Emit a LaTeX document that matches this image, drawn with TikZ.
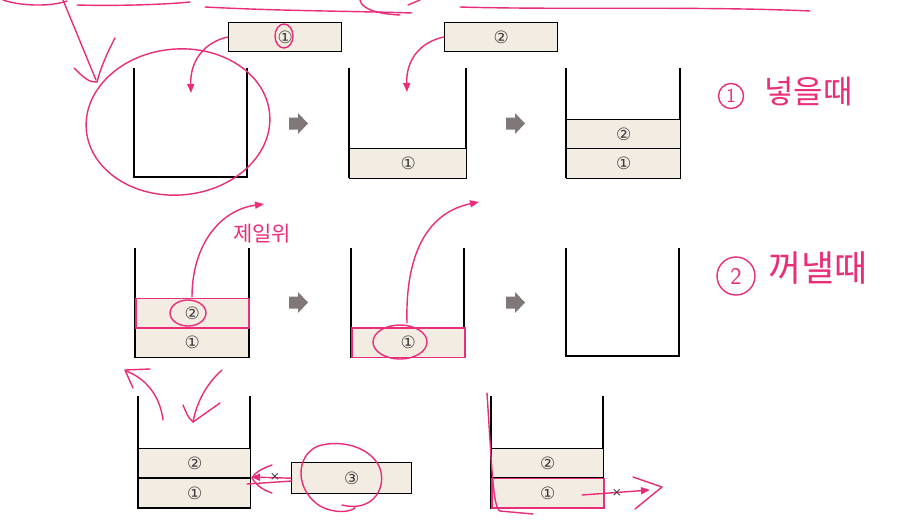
\documentclass[tikz,border=0pt]{standalone}
\usepackage{fontspec}
\newfontfamily\numfont{DejaVu Sans}
\newfontfamily\krfont{Noto Sans CJK KR}
\usetikzlibrary{arrows.meta}
\definecolor{boxfill}{RGB}{243,236,226}
\definecolor{ink}{RGB}{233,45,120}
\definecolor{arrowgray}{RGB}{128,120,120}
\definecolor{numgray}{RGB}{60,60,60}
\begin{document}
\begin{tikzpicture}[x=1pt,y=-1pt,
  wall/.style={line width=1.8pt},
  item/.style={draw=black, fill=boxfill, line width=1.4pt, minimum height=29.5pt,
    minimum width=113pt, inner sep=0pt, anchor=north west,
    font=\numfont\fontsize{17}{17}\selectfont, text=numgray},
  pinkitem/.style={item, draw=ink, line width=1.6pt},
  inkline/.style={draw=ink, line width=1.4pt, line cap=round, line join=round},
  inkarrow/.style={inkline, -{Triangle[length=9pt,width=7pt]}},
  grayarrow/.style={fill=arrowgray},
  hand/.style={text=ink, inner sep=0pt},
  cross/.style={font=\numfont\fontsize{12}{12}\selectfont, text=numgray, inner sep=0pt}
]
\useasboundingbox (0,0) rectangle (913,520);
\fill[white] (0,0) rectangle (913,520);

% ---------- Row 1 ----------
\node[item] (in1) at (228,21.5) {①};
\node[item] (in2) at (444,21.5) {②};

\draw[wall] (134,68) |- (247,177) -- (247,68);
\coordinate (aIn) at (191,93);

\draw[wall] (349,68) |- (466,177) -- (466,68);
\node[item, minimum width=117pt] (b1) at (349,148) {①};
\coordinate (bIn) at (407,92);

\draw[wall] (566,68) |- (680,177) -- (680,68);
\node[item, minimum width=114pt] (c2) at (566,118.5) {②};
\node[item, minimum width=114pt] (c1) at (566,148) {①};

\fill[grayarrow] (289,117.5) -- (298,117.5) -- (298,113) -- (308,123.5) -- (298,134) -- (298,129.5) -- (289,129.5) -- cycle;
\fill[grayarrow] (506,117.5) -- (515,117.5) -- (515,113) -- (525,123.5) -- (515,134) -- (515,129.5) -- (506,129.5) -- cycle;

% ---------- Row 2 ----------
\draw[wall] (135,248) |- (249,357) -- (249,248);
\node[item] (d1) at (135,327) {①};
\node[pinkitem] (d2) at (135,297.5) {②};

\draw[wall] (351,248) |- (464,357) -- (464,248);
\node[pinkitem] (e1) at (351,327) {①};

\draw[wall] (566,248) |- (679,356) -- (679,248);

\fill[grayarrow] (289,296.5) -- (298,296.5) -- (298,292) -- (308,302.5) -- (298,313) -- (298,308.5) -- (289,308.5) -- cycle;
\fill[grayarrow] (506,296.5) -- (515,296.5) -- (515,292) -- (525,302.5) -- (515,313) -- (515,308.5) -- (506,308.5) -- cycle;

% ---------- Row 3 ----------
\draw[wall] (138,396) |- (250,508) -- (250,396);
\node[item, minimum width=112pt] (g2) at (138,447.5) {②};
\node[item, minimum width=112pt] (g1) at (138,477.5) {①};
\node[item, minimum width=120pt, minimum height=31pt] (g3) at (291,462) {③};
\coordinate (gWall) at (251,477);

\draw[wall] (491,396) |- (603,508) -- (603,396);
\node[item, minimum width=112pt] (h2) at (491,447.5) {②};
\node[pinkitem, minimum width=112pt] (h1) at (491,477.5) {①};

% ---------- pink annotations ----------
% top underlines
\draw[inkline] (3,0) .. controls (20,6) and (50,7) .. (67,1);
\draw[inkline] (77,5) .. controls (110,6) and (160,5) .. (190,2);
\draw[inkline] (205,7) .. controls (280,11) and (350,11) .. (412,13);
\draw[inkline] (360,0) .. controls (362,10) and (380,14) .. (400,15);
\draw[inkline] (408,5) -- (420,0);
\draw[inkline] (460,7) .. controls (560,10) and (700,6) .. (810,11);
% top-left arrow
\draw[inkline] (63,0) -- (96,80);
\draw[inkline] (74,68) .. controls (84,78) and (90,83) .. (97,82);
\draw[inkline] (115,38) .. controls (106,55) and (100,70) .. (97,82);
% ellipse around first container
\draw[inkline] (178,122) ellipse [x radius=92, y radius=73, rotate=5];
% circle on (1)
\draw[inkline] (284,36) ellipse [x radius=9, y radius=12];
% insert arrows
\draw[inkarrow] (in1.west) .. controls (205,42) and (190,60) .. (aIn);
\draw[inkarrow] (in2.west) .. controls (420,42) and (406,60) .. (bIn);

% row 2 pop arrows
\coordinate (dOut) at (264,204);
\coordinate (eOut) at (479,202);
\draw[inkarrow] (192,297) .. controls (192,245) and (220,210) .. (dOut);
\draw[inkarrow] (407,323) .. controls (405,250) and (430,212) .. (eOut);
\draw[inkline] (188,313) ellipse [x radius=18, y radius=13];
\draw[inkline] (400,342) ellipse [x radius=27, y radius=17];

% row 3 left
\draw[inkline] (163,420) .. controls (160,395) and (145,378) .. (126,371);
\draw[inkline] (150,369) -- (125,370) -- (133,388);
\draw[inkline] (222,370) .. controls (205,385) and (196,405) .. (193,422);
\draw[inkline] (183,405) .. controls (186,412) and (188,418) .. (193,422) -- (220,403);
\draw[inkarrow] (g3.west) -- (gWall);
\draw[inkline] (247,484) -- (292,481);
\draw[inkline] (272,465) .. controls (260,469) and (254,474) .. (252,478) .. controls (256,485) and (263,490) .. (272,493);
\node[cross] (x1) at (275,477) {×};
\draw[inkline] (342,505) .. controls (370,512) and (385,492) .. (381,472) .. controls (376,450) and (345,438) .. (318,446) .. controls (295,456) and (295,490) .. (320,506) .. controls (335,514) and (350,512) .. (355,508);

% row 3 right
\draw[inkline] (487,393) .. controls (492,470) and (493,508) .. (500,511) -- (533,514);
\coordinate (hOut) at (650,490);
\draw[inkarrow] (582,495) -- (hOut);
\draw[inkline] (633,477) -- (662,487) -- (635,509);
\node[cross] (x2) at (617,493) {×};

% handwritten labels
\node[hand, draw=ink, line width=1.4pt, circle, minimum size=25pt, font=\fontsize{20}{20}\selectfont\sffamily] (l1) at (731,96) {1};
\node[hand, font=\krfont\fontsize{32}{32}\selectfont, anchor=west] (t1) at (764,92) {넣을때};
\node[hand, draw=ink, line width=1.4pt, circle, minimum size=38pt, font=\fontsize{24}{24}\selectfont\sffamily] (l2) at (736,276) {2};
\node[hand, font=\krfont\fontsize{36}{36}\selectfont, anchor=west] (t2) at (768,268) {꺼낼때};
\node[hand, font=\krfont\fontsize{21}{21}\selectfont] (t3) at (262,234) {제일위};
\end{tikzpicture}
\end{document}
